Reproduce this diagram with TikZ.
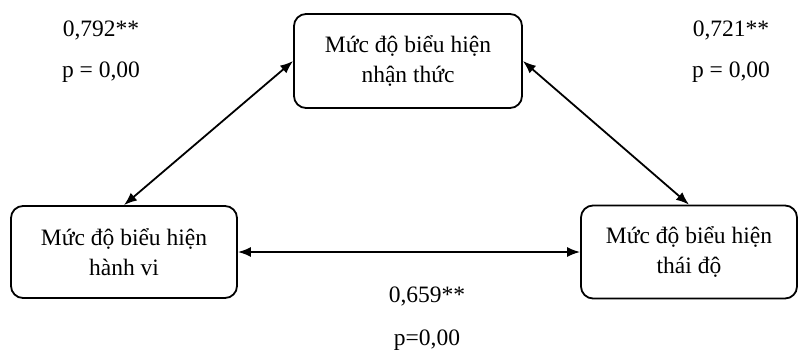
\documentclass[tikz,border=0pt]{standalone}
\usepackage{fontspec}
\setmainfont{Liberation Serif}
\usetikzlibrary{positioning, arrows.meta}
\tikzset{
  levelbox/.style={draw=black, fill=white, rounded corners=12pt,
    minimum width=226pt, minimum height=92pt,
    font=\fontsize{23.5}{30}\selectfont, line width=1.8pt, align=center},
  corrarrow/.style={{Latex[length=13pt, width=10pt]}-{Latex[length=13pt, width=10pt]},
    line width=1.8pt},
  stat/.style={font=\fontsize{23.5}{30}\selectfont, inner sep=0pt},
}

\begin{document}
\begin{tikzpicture}[x=1pt, y=-1pt]
  \useasboundingbox (0,0) rectangle (799,353);

  % === Three levels ===
  \node[levelbox, minimum width=228pt, minimum height=94pt] (cog) at (408,61) {Mức độ biểu hiện\\nhận thức};
  \node[levelbox] (beh) at (124,252) {Mức độ biểu hiện\\hành vi};
  \node[levelbox, minimum width=216pt, minimum height=93pt] (att) at (689,252) {Mức độ biểu hiện\\thái độ};

  % === Correlation arrows ===
  \draw[corrarrow] (cog.west) -- (beh.north);
  \draw[corrarrow] (cog.east) -- (att.north);
  \draw[corrarrow] (beh.east) -- (att.west);

  % === Coefficients ===
  \node[stat] (rcb) at (101,30) {0,792**};
  \node[stat, below=22pt of rcb] (pcb) {p = 0,00};
  \node[stat] (rca) at (731,30) {0,721**};
  \node[stat, below=22pt of rca] (pca) {p = 0,00};
  \node[stat] (rba) at (427,296) {0,659**};
  \node[stat, below=24pt of rba] (pba) {p=0,00};

\end{tikzpicture}
\end{document}
